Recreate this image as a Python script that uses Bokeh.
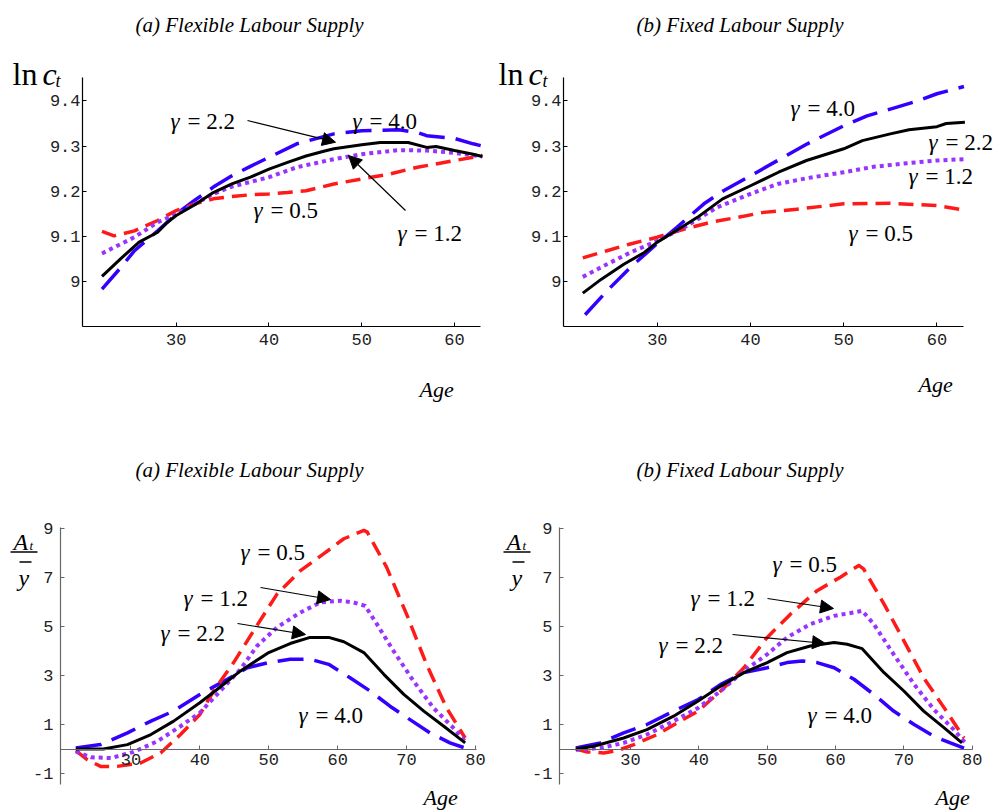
from bokeh.plotting import figure
from bokeh.models import Range1d, FixedTicker, Label, Arrow, NormalHead
from bokeh.layouts import column, row
from bokeh.embed import file_html
from bokeh.resources import INLINE

# ---------------- data ----------------
# Panel (a) top: ln c_t, flexible labour supply
tl_age_05 = [22, 23.3, 25.5, 28, 30, 32, 34, 36, 38, 40, 42, 44, 47, 50, 53, 56, 59, 63]
tl_val_05 = [9.111, 9.101, 9.112, 9.135, 9.157, 9.172, 9.183, 9.188, 9.192, 9.194, 9.197, 9.201,
             9.216, 9.227, 9.238, 9.253, 9.264, 9.279]
tl_age_12 = [22, 25.5, 28, 30, 34, 36, 40, 43, 47, 50, 54, 57, 60, 63]
tl_val_12 = [9.062, 9.098, 9.131, 9.149, 9.194, 9.21, 9.231, 9.253, 9.271, 9.282, 9.291, 9.29,
             9.285, 9.277]
tl_age_22 = [22, 24, 26, 28, 29, 30, 32, 34, 36, 38, 40, 42, 44, 46, 47, 50, 52, 55, 57, 58, 60, 62, 63]
tl_val_22 = [9.011, 9.05, 9.087, 9.109, 9.13, 9.146, 9.17, 9.197, 9.216, 9.231, 9.249, 9.264,
             9.278, 9.289, 9.294, 9.303, 9.308, 9.308, 9.297, 9.299, 9.29, 9.282, 9.277]
tl_age_40 = [22, 24, 25.5, 28, 30, 32, 34, 36, 38, 40, 43, 47, 50, 54, 56, 57, 60, 62, 63]
tl_val_40 = [8.983, 9.03, 9.068, 9.112, 9.149, 9.18, 9.209, 9.234, 9.255, 9.275, 9.305, 9.327,
             9.334, 9.336, 9.33, 9.323, 9.317, 9.305, 9.30]

# Panel (b) top: ln c_t, fixed labour supply
tr_age_05 = [22, 24.6, 27.1, 30, 32.9, 35.7, 38.6, 41.4, 45, 50, 55, 58, 60, 63]
tr_val_05 = [9.052, 9.068, 9.083, 9.098, 9.116, 9.131, 9.142, 9.153, 9.16, 9.172, 9.173, 9.17,
             9.168, 9.158]
tr_age_12 = [22, 24.6, 27.1, 30, 32.9, 36.4, 40, 42.9, 46.1, 50, 53.2, 56.8, 60, 63]
tr_val_12 = [9.01, 9.038, 9.064, 9.09, 9.12, 9.164, 9.194, 9.216, 9.229, 9.242, 9.254, 9.262,
             9.268, 9.271]
tr_age_22 = [22, 24, 26.4, 28.6, 30, 32.3, 34.3, 37, 40, 43, 46, 50, 52, 55, 57, 60, 61, 63]
tr_val_22 = [8.974, 9.005, 9.038, 9.064, 9.087, 9.116, 9.142, 9.183, 9.212, 9.242, 9.268, 9.294,
             9.312, 9.327, 9.336, 9.343, 9.35, 9.353]
tr_age_40 = [22.25, 24.6, 27.1, 30, 32.1, 35, 37.1, 40, 42.9, 46.1, 50, 52.5, 55, 57.9, 60, 62.9]
tr_val_40 = [8.926, 8.979, 9.031, 9.084, 9.12, 9.172, 9.201, 9.234, 9.268, 9.305, 9.345, 9.367,
             9.382, 9.40, 9.416, 9.432]

# Panel (a) bottom: A_t / ybar, flexible labour supply
bl_age_05 = [22, 23.7, 25.6, 28, 31.4, 34.3, 37.2, 40, 42, 44.9, 47.8, 51.2, 54.6, 58, 60.9, 63.8,
             64.3, 67.1, 70, 72.9, 75.8, 78.5]
bl_val_05 = [-0.07, -0.44, -0.71, -0.71, -0.57, -0.16, 0.59, 1.41, 2.37, 3.53, 4.83, 6.33, 7.29,
             7.98, 8.59, 8.93, 8.86, 7.43, 5.51, 3.46, 1.68, 0.45]
bl_age_12 = [22, 24.2, 27.1, 30.4, 33.8, 37.2, 40, 42.5, 45.9, 48.3, 51.2, 54.6, 57.5, 60.4, 62.3,
             64, 65.7, 68.1, 71, 73.9, 76.8, 78.5]
bl_val_12 = [-0.1, -0.34, -0.37, -0.12, 0.31, 0.93, 1.48, 2.23, 3.26, 4.21, 4.97, 5.58, 5.99, 6.06,
             5.99, 5.85, 5.1, 4.01, 2.78, 1.68, 0.86, 0.31]
bl_age_22 = [22, 26, 29.5, 32.9, 36.2, 40, 42.5, 45.9, 50, 53.1, 56, 58.7, 60.9, 63.8, 66.7, 69.6,
             72.5, 75.4, 78.5]
bl_val_22 = [0, 0, 0.18, 0.59, 1.14, 1.89, 2.43, 3.19, 3.94, 4.31, 4.56, 4.56, 4.38, 3.94, 3.05,
             2.23, 1.55, 0.93, 0.25]
bl_age_40 = [22, 25.6, 29.5, 32.9, 36.2, 40, 44, 46.9, 50, 53.1, 56, 58.7, 61.8, 64.7, 67.6, 70.5,
             73.4, 76.3, 78.5]
bl_val_40 = [0.04, 0.18, 0.66, 1.14, 1.55, 2.23, 2.85, 3.32, 3.53, 3.67, 3.67, 3.46, 2.91, 2.37,
             1.75, 1.2, 0.66, 0.25, 0.04]

# Panel (b) bottom: A_t / ybar, fixed labour supply
br_age_05 = [22, 23.7, 26.1, 28, 30.5, 33.9, 37.3, 39.9, 43.2, 46.6, 50, 53.4, 57.3, 60.7, 63.4,
             64.1, 67.1, 70, 72.9, 75.9, 78.8]
br_val_05 = [0, -0.12, -0.16, -0.07, 0.18, 0.59, 1.14, 1.55, 2.37, 3.32, 4.56, 5.51, 6.47, 7.02,
             7.5, 7.36, 5.92, 4.42, 2.91, 1.68, 0.45]
br_age_12 = [22, 25.6, 29, 32.4, 36.3, 39.9, 43.2, 46.6, 50, 52.9, 56.3, 59.8, 62.7, 63.9, 65.6,
             68.5, 71.5, 74.4, 77.3, 79]
br_val_12 = [-0.03, 0.04, 0.25, 0.59, 1.14, 1.68, 2.37, 3.19, 3.87, 4.56, 5.1, 5.44, 5.58, 5.65,
             5.1, 3.87, 2.64, 1.61, 0.79, 0.25]
br_age_22 = [22, 24.6, 29, 32.4, 36.3, 39.9, 43.2, 46.6, 50, 52.9, 56.3, 59.8, 61.7, 63.9, 67.1,
             70, 72.9, 75.9, 78.5]
br_val_22 = [0, 0.11, 0.45, 0.79, 1.34, 1.96, 2.57, 3.12, 3.53, 3.94, 4.21, 4.35, 4.28, 4.1, 3.12,
             2.37, 1.55, 0.86, 0.25]
br_age_40 = [22, 25.6, 29, 32.4, 36.3, 39.9, 43.2, 46.6, 50, 52.9, 55.1, 57.3, 59.8, 62.7, 65.6,
             68.5, 71.5, 74.4, 76.8, 78.8]
br_val_40 = [0.04, 0.25, 0.66, 1.0, 1.55, 2.02, 2.64, 3.12, 3.32, 3.53, 3.6, 3.53, 3.32, 2.85,
             2.23, 1.55, 1.0, 0.52, 0.25, 0.04]

top_x_ticks = [30, 40, 50, 60]
top_y_ticks = [9.0, 9.1, 9.2, 9.3, 9.4]
top_y_labels = ["9", "9.1", "9.2", "9.3", "9.4"]
bot_x_ticks = [30, 40, 50, 60, 70, 80]
bot_y_ticks = [-1, 1, 3, 5, 7, 9]
bot_y_labels = ["-1", "1", "3", "5", "7", "9"]

title_a = "(a) Flexible Labour Supply"
title_b = "(b) Fixed Labour Supply"

# ---------------- styles ----------------
STYLE = {
    "0.5": dict(color="#ff1a1a", line_dash="15 8", line_width=3.5),
    "1.2": dict(color="#9933ff", line_dash="4 4", line_width=4),
    "2.2": dict(color="#000000", line_dash="solid", line_width=3),
    "4.0": dict(color="#3300ff", line_dash="26 11", line_width=3.5),
}
DRAW_ORDER = ["4.0", "0.5", "1.2", "2.2"]
SERIF = "Liberation Serif"
MONO = "Liberation Mono"

# page geometry: figure rectangle, and the axes box with its data ranges
GEOM = {
    "tl": dict(fig_left=0, fig_top=0, fig_w=498, fig_h=404, left=82, top=77, w=398, h=249,
               x=(19.9, 62.8), y=(8.9, 9.452)),
    "tr": dict(fig_left=498, fig_top=0, fig_w=504, fig_h=404, left=563, top=77, w=400, h=249,
               x=(19.93, 62.85), y=(8.9, 9.452)),
    "bl": dict(fig_left=0, fig_top=404, fig_w=498, fig_h=407, left=60, top=527, w=416, h=257,
               x=(19.78, 80.15), y=(-1.45, 9.05)),
    "br": dict(fig_left=498, fig_top=404, fig_w=504, fig_h=407, left=559, top=527, w=413, h=257,
               x=(19.61, 80.04), y=(-1.45, 9.05)),
}


def to_data(g, px, py):
    x0, x1 = g["x"]
    y0, y1 = g["y"]
    return (x0 + (px - g["left"]) / g["w"] * (x1 - x0),
            y1 - (py - g["top"]) / g["h"] * (y1 - y0))


def make_fig(key, bottom):
    g = GEOM[key]
    xs0, ys1 = to_data(g, g["fig_left"], g["fig_top"])
    xs1, ys0 = to_data(g, g["fig_left"] + g["fig_w"], g["fig_top"] + g["fig_h"])
    p = figure(frame_width=g["fig_w"], frame_height=g["fig_h"],
               min_border_left=0, min_border_right=0, min_border_top=0, min_border_bottom=0,
               x_range=Range1d(xs0, xs1), y_range=Range1d(ys0, ys1),
               output_backend="svg", toolbar_location=None)
    p.outline_line_color = None
    p.xgrid.visible = False
    p.ygrid.visible = False
    p.background_fill_color = "white"
    p.border_fill_color = "white"
    axc = "#666666" if bottom else "#000000"
    for ax in p.axis:
        ax.axis_line_color = axc
        ax.axis_line_width = 1.2
        ax.major_tick_line_color = axc
        ax.major_tick_in = 4
        ax.major_tick_out = 0
        ax.minor_tick_line_color = None
        ax.major_label_text_font = MONO
        ax.major_label_text_font_size = "17px"
        ax.major_label_text_color = "#222222"
    p.xaxis.bounds = g["x"]
    p.yaxis.bounds = g["y"]
    p.yaxis.fixed_location = g["x"][0]
    if bottom:
        p.xaxis.ticker = FixedTicker(ticks=bot_x_ticks)
        p.yaxis.ticker = FixedTicker(ticks=bot_y_ticks)
        p.yaxis.major_label_overrides = dict(zip(bot_y_ticks, bot_y_labels))
        p.xaxis.fixed_location = 0
        p.xaxis.major_label_standoff = 5
        p.yaxis.major_label_standoff = 7
    else:
        p.xaxis.ticker = FixedTicker(ticks=top_x_ticks)
        p.yaxis.ticker = FixedTicker(ticks=top_y_ticks)
        p.yaxis.major_label_overrides = dict(zip(top_y_ticks, top_y_labels))
        p.xaxis.fixed_location = g["y"][0]
        p.xaxis.major_label_standoff = 7
        p.yaxis.major_label_standoff = 2
    return p


def text(p, g, s, px, py, size, style="normal", x_offset=0):
    x, y = to_data(g, px, py)
    p.add_layout(Label(x=x, y=y, text=s, text_font=SERIF, text_font_size=size,
                       text_font_style=style, text_baseline="alphabetic", text_align="left",
                       text_color="black", x_offset=x_offset))


def gamma(p, g, val, px, py):
    text(p, g, "\u03b3", px, py, "23px", "italic")
    text(p, g, "= " + val, px, py, "23px", "normal", x_offset=17)


def arrow(p, g, p0, p1, head=True, width=1.2):
    x0, y0 = to_data(g, *p0)
    x1, y1 = to_data(g, *p1)
    end = NormalHead(size=13, fill_color="black", line_color="black", line_width=1) if head else None
    p.add_layout(Arrow(x_start=x0, y_start=y0, x_end=x1, y_end=y1, end=end,
                       line_color="black", line_width=width))


SERIES = {
    "tl": {"0.5": (tl_age_05, tl_val_05), "1.2": (tl_age_12, tl_val_12),
           "2.2": (tl_age_22, tl_val_22), "4.0": (tl_age_40, tl_val_40)},
    "tr": {"0.5": (tr_age_05, tr_val_05), "1.2": (tr_age_12, tr_val_12),
           "2.2": (tr_age_22, tr_val_22), "4.0": (tr_age_40, tr_val_40)},
    "bl": {"0.5": (bl_age_05, bl_val_05), "1.2": (bl_age_12, bl_val_12),
           "2.2": (bl_age_22, bl_val_22), "4.0": (bl_age_40, bl_val_40)},
    "br": {"0.5": (br_age_05, br_val_05), "1.2": (br_age_12, br_val_12),
           "2.2": (br_age_22, br_val_22), "4.0": (br_age_40, br_val_40)},
}

figs = {}
for key in ["tl", "tr", "bl", "br"]:
    bottom = key.startswith("b")
    p = make_fig(key, bottom)
    for gm in DRAW_ORDER:
        xs, ys = SERIES[key][gm]
        st = STYLE[gm]
        p.line(xs, ys, line_color=st["color"], line_dash=st["line_dash"],
               line_width=st["line_width"], line_cap="butt", line_join="round")
    figs[key] = p

# ---------------- annotations ----------------
g = GEOM["tl"]; p = figs["tl"]
text(p, g, title_a, 135, 24, "21px", "italic")
text(p, g, "ln", 12, 73, "32px")
text(p, g, "c", 42, 73, "32px", "italic")
text(p, g, "t", 55, 80, "18px", "italic")
text(p, g, "Age", 419, 389, "22px", "italic")
gamma(p, g, "2.2", 170, 121)
gamma(p, g, "4.0", 352, 121)
gamma(p, g, "0.5", 253, 210)
gamma(p, g, "1.2", 397, 233)
arrow(p, g, (247, 120), (335, 141.7))
arrow(p, g, (405, 210), (348, 155))

g = GEOM["tr"]; p = figs["tr"]
text(p, g, title_b, 636, 24, "21px", "italic")
text(p, g, "ln", 498, 73, "32px")
text(p, g, "c", 528, 73, "32px", "italic")
text(p, g, "t", 542, 80, "18px", "italic")
text(p, g, "Age", 918, 384, "22px", "italic")
gamma(p, g, "4.0", 790, 108)
gamma(p, g, "2.2", 928, 142)
gamma(p, g, "1.2", 908, 176)
gamma(p, g, "0.5", 848, 233)

for key, tx, ax_ in [("bl", 135, 13), ("br", 636, 506)]:
    g = GEOM[key]; p = figs[key]
    text(p, g, title_a if key == "bl" else title_b, tx, 469, "21px", "italic")
    text(p, g, "A", ax_, 541, "24px", "italic")
    text(p, g, "t", ax_ + 16, 545, "13px", "italic")
    arrow(p, g, (ax_ - 3, 551.5), (ax_ + 24, 551.5), head=False, width=1.5)
    text(p, g, "y", ax_ + 5, 577, "24px", "italic")
    arrow(p, g, (ax_ + 6, 561.5), (ax_ + 18, 561.5), head=False, width=1.5)

g = GEOM["bl"]; p = figs["bl"]
text(p, g, "Age", 423, 797, "22px", "italic")
gamma(p, g, "0.5", 240, 552)
gamma(p, g, "1.2", 183, 598)
gamma(p, g, "2.2", 160, 633)
gamma(p, g, "4.0", 298, 715)
arrow(p, g, (260, 587), (330, 599))
arrow(p, g, (237, 623), (305, 634))

g = GEOM["br"]; p = figs["br"]
text(p, g, "Age", 935, 797, "22px", "italic")
gamma(p, g, "0.5", 772, 564)
gamma(p, g, "1.2", 690, 598)
gamma(p, g, "2.2", 658, 645)
gamma(p, g, "4.0", 807, 715)
arrow(p, g, (767, 598), (833, 608))
arrow(p, g, (732, 634), (825, 643))

layout = column(row(figs["tl"], figs["tr"]), row(figs["bl"], figs["br"]))
open("out.html", "w").write(file_html(layout, INLINE))
